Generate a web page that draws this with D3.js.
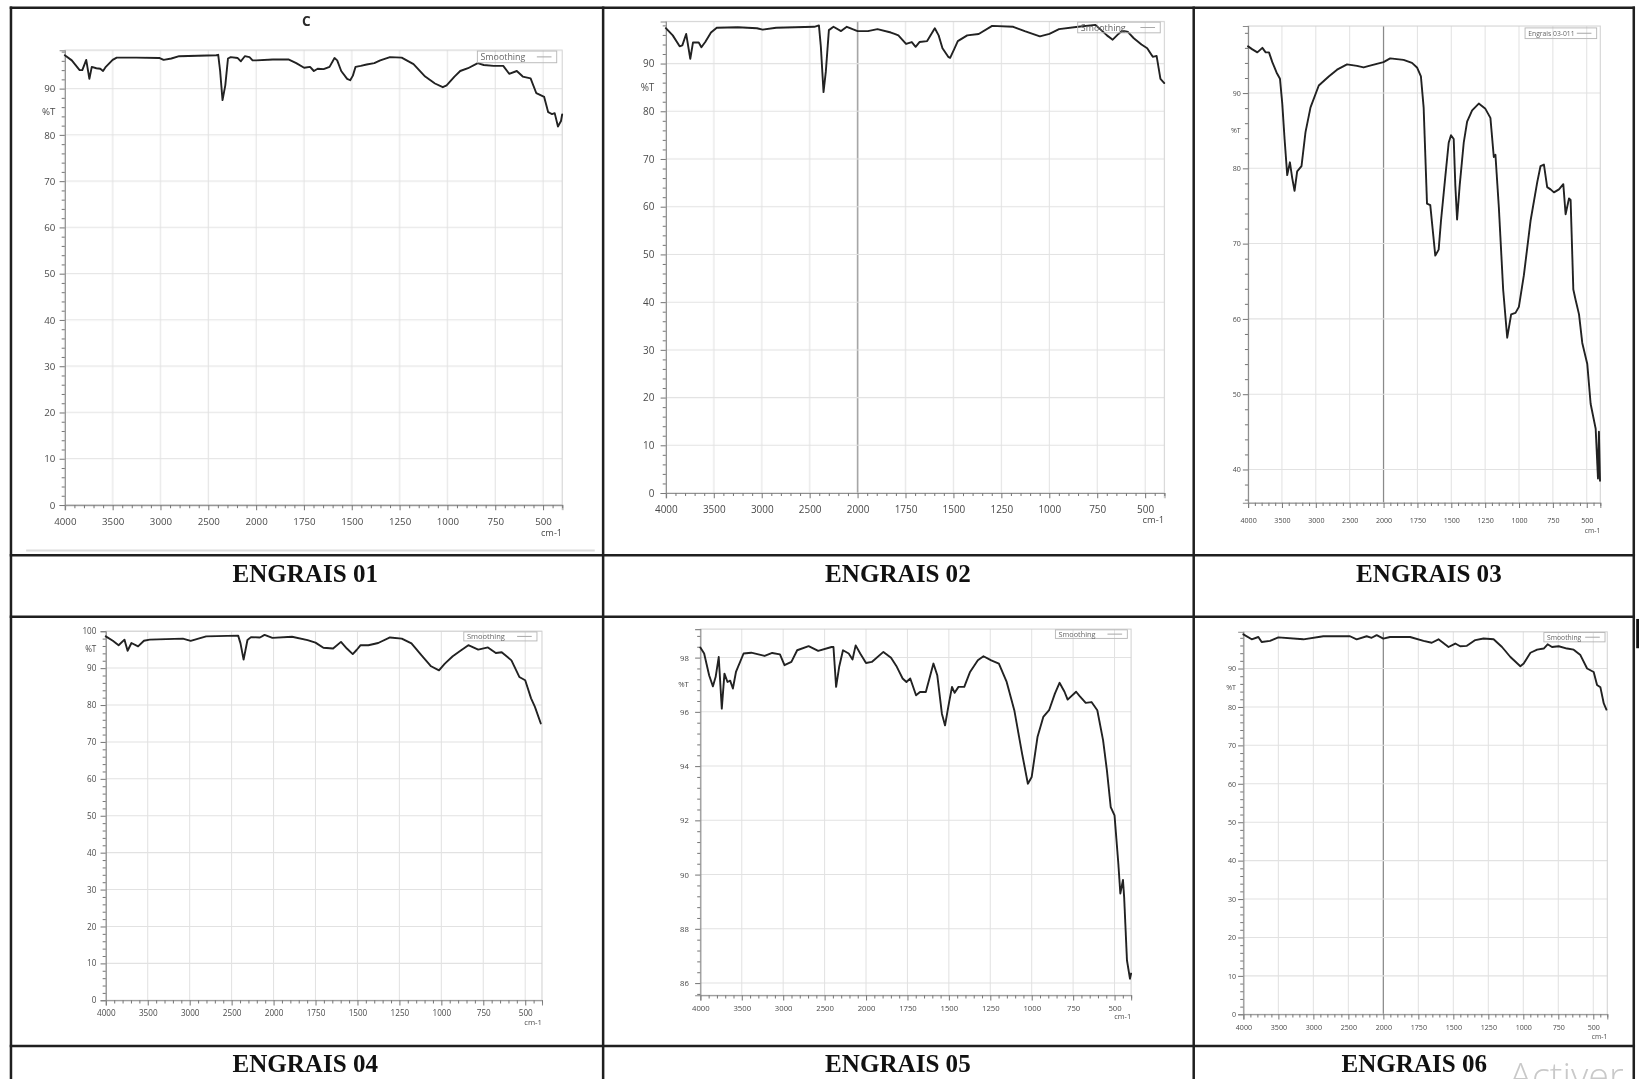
<!DOCTYPE html>
<html>
<head>
<meta charset="utf-8">
<script src="https://cdn.jsdelivr.net/npm/d3@7"></script>
<style>
  html, body { margin: 0; padding: 0; background: #fff; overflow: hidden; }
  svg { display: block; }
</style>
</head>
<body>
<svg id="fig" width="1639" height="1079" viewBox="0 0 1568 1032" preserveAspectRatio="none"></svg>
<script>
// ---- FTIR spectra of six fertiliser samples (wavenumber in cm-1, transmittance in %T) ----
const captions = ["ENGRAIS 01", "ENGRAIS 02", "ENGRAIS 03", "ENGRAIS 04", "ENGRAIS 05", "ENGRAIS 06"];
const legendNames = ["Smoothing", "Smoothing", "Engrais 03-011", "Smoothing", "Smoothing", "Smoothing"];

const xTickLabels = [4000, 3500, 3000, 2500, 2000, 1750, 1500, 1250, 1000, 750, 500];

const yTicks01 = [0, 10, 20, 30, 40, 50, 60, 70, 80, 90];
const yTicks02 = [0, 10, 20, 30, 40, 50, 60, 70, 80, 90];
const yTicks03 = [40, 50, 60, 70, 80, 90];
const yTicks04 = [0, 10, 20, 30, 40, 50, 60, 70, 80, 90, 100];
const yTicks05 = [86, 88, 90, 92, 94, 96, 98];
const yTicks06 = [0, 10, 20, 30, 40, 50, 60, 70, 80, 90];

const wn01 = [4000,3927,3845,3817,3776,3743,3718,3670,3629,3600,3571,3500,3457,3253,3008,2967,2886,2804,2416,2396,2376,2351,2322,2294,2265,2192,2159,2118,2069,2037,2000,1912,1831,1790,1749,1718,1698,1678,1647,1616,1590,1576,1555,1524,1508,1494,1480,1453,1422,1382,1351,1300,1239,1177,1116,1065,1024,1004,963,933,892,841,810,759,708,677,637,606,565,535,494,473,453,439,422,406,400];
const t01  = [97.2,96.1,94,94,96.2,92.1,94.7,94.4,94.3,93.8,94.7,96.2,96.7,96.7,96.6,96.2,96.5,97,97.2,97.3,93.8,87.5,90.7,96.5,96.8,96.6,95.9,97,96.8,96.1,96.1,96.3,96.3,95.5,94.5,94.7,93.8,94.3,94.2,94.7,96.6,96.1,93.8,92.1,91.8,92.8,94.7,94.9,95.2,95.5,96.1,96.8,96.7,95.3,92.6,91.1,90.3,90.7,92.6,93.8,94.4,95.5,95.1,94.9,94.9,93.2,93.8,92.6,92.2,89,88.2,84.9,84.5,84.7,81.8,83,84.4];

const wn02 = [4000,3928,3856,3828,3788,3745,3717,3657,3629,3589,3529,3469,3249,3050,2990,2850,2451,2403,2383,2355,2331,2299,2251,2172,2112,2052,2000,1946,1896,1826,1787,1747,1717,1697,1677,1637,1597,1577,1557,1527,1517,1497,1477,1428,1368,1298,1188,1128,1049,999,949,849,759,699,669,639,619,589,559,519,489,460,440,420,400];
const t02  = [97.4,95.9,93.6,93.8,96.2,91,94.4,94.4,93.4,94.5,96.5,97.5,97.6,97.4,97.1,97.5,97.7,98,93.6,84,88.3,97,97.7,96.8,97.7,97.2,96.8,96.8,97.2,96.5,95.9,94.1,94.5,93.5,94.5,94.7,97.4,95.9,93.2,91.4,91.2,92.9,94.7,95.9,96.2,97.9,97.7,96.8,95.7,96.2,97.2,97.7,98.1,95.9,95,96.2,96.9,96.6,95.3,94,93.2,91.4,91.6,86.8,85.9];

const wn03 = [4000,3936,3863,3789,3740,3691,3642,3578,3529,3495,3461,3422,3382,3348,3314,3275,3211,3152,3078,2956,2809,2686,2539,2392,2294,2172,2000,1951,1852,1790,1753,1724,1704,1679,1655,1635,1618,1593,1576,1544,1519,1502,1482,1470,1457,1438,1408,1383,1346,1297,1248,1211,1186,1174,1149,1117,1087,1058,1026,1001,964,915,865,841,816,792,767,742,705,673,656,631,619,599,582,557,533,496,471,434,417,410,402];
const t03  = [96.2,95.8,95.4,96,95.4,95.4,94.1,92.7,91.9,88.6,83.9,79.1,80.8,78.7,77,79.6,80.3,84.8,88.1,91,92.2,93.1,93.8,93.6,93.4,93.7,94.1,94.6,94.4,94,93.4,92.2,88.1,75.3,75.1,71.5,68.4,69.2,73,78.9,83.4,84.4,83.9,77.7,73.2,77.7,83.4,86.2,87.7,88.6,87.9,86.7,81.5,81.8,74.9,63.9,57.5,60.6,60.8,61.6,65.8,73,78.2,80.3,80.5,77.5,77.2,76.8,77.2,77.9,73.9,76,75.8,63.9,62.5,60.6,56.8,54,48.7,45.4,38.8,45,38.5];

const wn04 = [4000,3916,3847,3777,3740,3694,3615,3545,3476,3081,2988,2896,2803,2422,2394,2357,2311,2269,2162,2107,2014,1890,1797,1750,1703,1645,1598,1563,1528,1505,1481,1435,1376,1306,1236,1178,1119,1061,1014,979,932,886,839,780,722,675,640,582,535,500,465,442,407];
const t04  = [98.6,97.4,96.2,97.7,94.7,96.8,95.9,97.4,97.7,98,97.4,98,98.6,98.8,96.7,92.3,97.6,98.4,98.3,99,98.2,98.5,97.6,96.9,95.5,95.3,97.1,95.3,93.8,94.9,96.2,96.2,96.8,98.3,98,96.7,93.5,90.5,89.4,91.2,93.2,94.7,96.2,95,95.6,94.1,94.3,92.1,87.6,86.7,81.8,79.5,75];

const wn05 = [4000,3954,3894,3848,3815,3778,3741,3709,3672,3640,3607,3570,3478,3386,3224,3132,3039,2984,2901,2831,2693,2577,2416,2393,2361,2324,2278,2209,2163,2125,2070,2000,1965,1895,1849,1814,1779,1756,1733,1698,1674,1639,1593,1570,1542,1523,1500,1481,1465,1442,1407,1372,1325,1291,1244,1198,1151,1105,1058,1023,1000,965,930,895,860,832,802,783,732,709,674,639,604,569,546,523,500,477,465,449,442,425,407,400];
const t05  = [98.37,98.15,97.35,96.94,97.29,98.02,96.12,97.41,97.1,97.15,96.86,97.47,98.15,98.18,98.06,98.17,98.12,97.72,97.84,98.27,98.42,98.25,98.39,98.39,96.92,97.66,98.27,98.15,97.93,98.45,98.15,97.8,97.84,98.21,97.99,97.66,97.23,97.1,97.23,96.61,96.73,96.73,97.78,97.35,95.93,95.5,96.3,96.92,96.7,96.92,96.92,97.47,97.9,98.05,97.9,97.78,97.1,96.06,94.46,93.35,93.6,95.07,95.81,96.06,96.67,97.07,96.74,96.45,96.74,96.57,96.33,96.36,96.06,94.95,93.84,92.49,92.18,90.4,89.3,89.8,89.17,86.84,86.16,86.35];

const wn06 = [4000,3881,3786,3738,3619,3500,3143,2857,2476,2381,2238,2167,2095,2000,1952,1809,1713,1654,1606,1534,1486,1451,1403,1343,1284,1212,1152,1092,1021,997,949,901,854,826,795,747,687,640,592,544,497,473,449,425,406];
const t06  = [98.9,97.6,98.2,96.9,97.2,98.1,97.6,98.4,98.4,97.6,98.4,98,98.7,97.8,98.2,98.2,97.2,96.7,97.6,95.6,96.5,95.8,95.9,97.4,97.8,97.6,95.6,93,90.6,91.3,94.1,94.9,95.2,96.3,95.6,95.8,95.2,94.9,93.5,90,89.1,85.7,85.1,80.9,79.3];

const spectra = [
  { wn: wn01, t: t01, yTicks: yTicks01 },
  { wn: wn02, t: t02, yTicks: yTicks02 },
  { wn: wn03, t: t03, yTicks: yTicks03 },
  { wn: wn04, t: t04, yTicks: yTicks04 },
  { wn: wn05, t: t05, yTicks: yTicks05 },
  { wn: wn06, t: t06, yTicks: yTicks06 }
];

// ---- page geometry (viewBox units) ----
const frames = [
  { left: 62,     mid: 245,    bottom: 483,   top: 48,    yDomain: [0, 98.3],      yMinor: 2,   pctT: 85, fs: 9.3, xLabDy: 16,   yGap: 9,  cmDy: 27,   breakLine: false,
    legend: [456.7, 532.6, 48.8, 60],  legFs: 8.5 },
  { left: 637,    mid: 820.4,  bottom: 471.5, top: 20.6,  yDomain: [0, 98.8],      yMinor: 2,   pctT: 85, fs: 9.5, xLabDy: 15.5, yGap: 11, cmDy: 25.5, breakLine: true,
    legend: [1031, 1110, 21.2, 31.4],  legFs: 8.5 },
  { left: 1194,   mid: 1323.6, bottom: 480.9, top: 24.9,  yDomain: [35.57, 98.9],  yMinor: 2,   pctT: 85, fs: 6.8, xLabDy: 16.6, yGap: 7,  cmDy: 27,   breakLine: true,
    legend: [1459, 1527.5, 26.7, 36.9], legFs: 6.5 },
  { left: 101.2,  mid: 261.7,  bottom: 956.7, top: 603.7, yDomain: [0, 100],       yMinor: 2,   pctT: 95, fs: 7.8, xLabDy: 12,   yGap: 9,  cmDy: 21,   breakLine: false,
    legend: [443.7, 513.7, 604.4, 613], legFs: 7.2 },
  { left: 670,    mid: 828.5,  bottom: 951.9, top: 601.7, yDomain: [85.55, 99.05], yMinor: 0.4, pctT: 97, fs: 7.4, xLabDy: 12,   yGap: 11, cmDy: 20.7, breakLine: false,
    legend: [1009.7, 1078.5, 602.4, 610.6], legFs: 7 },
  { left: 1189.5, mid: 1323.4, bottom: 970.1, top: 604.3, yDomain: [0, 99.55],     yMinor: 2,   pctT: 85, fs: 6.8, xLabDy: 12.7, yGap: 7,  cmDy: 21,   breakLine: true,
    legend: [1477, 1535.5, 605, 613.9], legFs: 6.5 }
];

const captionPos = [[292, 556.5], [859, 556.5], [1367, 556.5], [292, 1025], [859, 1025], [1353, 1025]];

const svg = d3.select("#fig");
svg.append("rect").attr("width", 1568).attr("height", 1032).attr("fill", "#fff");

const defs = svg.append("defs");
defs.append("filter").attr("id", "soft")
  .attr("x", "-5%").attr("y", "-5%").attr("width", "110%").attr("height", "110%")
  .append("feGaussianBlur").attr("stdDeviation", 0.45);

// minor wavenumber ticks: every 100 above 2000 cm-1, every 50 below
const xMinorTicks = d3.range(4000, 2000, -100).concat(d3.range(2000, 399, -50))
  .filter(v => !xTickLabels.includes(v));

const tickFont = "'Open Sans', 'DejaVu Sans', sans-serif";

spectra.forEach((s, i) => {
  const f = frames[i];
  const right = f.mid + 1.6 * (f.mid - f.left);
  // the instrument doubles the wavenumber scale below 2000 cm-1
  const x = d3.scaleLinear().domain([4000, 2000, 400]).range([f.left, f.mid, right]);
  const y = d3.scaleLinear().domain(f.yDomain).range([f.bottom, f.top]);

  const g = svg.append("g").attr("filter", "url(#soft)");

  // grid
  g.append("g").selectAll("line").data(xTickLabels.filter(v => v !== 4000)).join("line")
    .attr("x1", d => x(d)).attr("x2", d => x(d))
    .attr("y1", f.top).attr("y2", f.bottom)
    .attr("stroke", d => (f.breakLine && d === 2000) ? "#8a8a8a" : "#e2e2e2")
    .attr("stroke-width", d => (f.breakLine && d === 2000) ? 1.2 : 1);
  g.append("g").selectAll("line").data(s.yTicks.filter(v => v > f.yDomain[0])).join("line")
    .attr("x1", f.left).attr("x2", right)
    .attr("y1", d => y(d)).attr("y2", d => y(d))
    .attr("stroke", "#e2e2e2").attr("stroke-width", 1);

  // frame
  g.append("rect").attr("x", f.left).attr("y", f.top)
    .attr("width", right - f.left).attr("height", f.bottom - f.top)
    .attr("fill", "none").attr("stroke", "#d2d2d2").attr("stroke-width", 1);

  // x axis: major ticks with labels, minor ticks
  const xAx = g.append("g").attr("transform", `translate(0,${f.bottom})`)
    .call(d3.axisBottom(x).tickValues(xTickLabels).tickSize(5)
      .tickPadding(f.xLabDy - 5 - 0.35 * f.fs).tickFormat(d3.format("d")));
  const xAxMin = g.append("g").attr("transform", `translate(0,${f.bottom})`)
    .call(d3.axisBottom(x).tickValues(xMinorTicks).tickSize(3).tickFormat(""));
  xAxMin.select(".domain").remove();

  // y axis
  const minorVals = [];
  const step = f.yMinor;
  for (let k = Math.ceil(f.yDomain[0] / step); k * step <= f.yDomain[1] + 1e-9; k++) {
    const v = +(k * step).toFixed(3);
    if (!s.yTicks.some(t => Math.abs(t - v) < 1e-6)) minorVals.push(v);
  }
  const yAx = g.append("g").attr("transform", `translate(${f.left},0)`)
    .call(d3.axisLeft(y).tickValues(s.yTicks).tickSize(5).tickPadding(f.yGap - 5).tickFormat(d3.format("d")));
  const yAxMin = g.append("g").attr("transform", `translate(${f.left},0)`)
    .call(d3.axisLeft(y).tickValues(minorVals).tickSize(3).tickFormat(""));
  yAxMin.select(".domain").remove();

  [xAx, xAxMin, yAx, yAxMin].forEach(a => {
    a.attr("font-family", tickFont).attr("font-size", f.fs);
    a.selectAll("line").attr("stroke", "#7a7a7a");
    a.selectAll(".domain").attr("stroke", "#8a8a8a");
    a.selectAll("text").attr("fill", "#4a4a4a");
  });

  // %T and cm-1 labels
  g.append("text").attr("x", f.left - f.yGap).attr("y", y(f.pctT)).attr("dy", "0.35em")
    .attr("text-anchor", "end").attr("font-family", tickFont).attr("font-size", f.fs)
    .attr("fill", "#4a4a4a").text("%T");
  g.append("text").attr("x", right).attr("y", f.bottom + f.cmDy).attr("dy", "0.35em")
    .attr("text-anchor", "end").attr("font-family", tickFont).attr("font-size", f.fs * 0.95)
    .attr("fill", "#4a4a4a").text("cm-1");

  // spectrum
  const pts = s.wn.map((w, k) => [w, s.t[k]]);
  g.append("path").datum(pts)
    .attr("d", d3.line().x(d => x(d[0])).y(d => y(d[1])))
    .attr("fill", "none").attr("stroke", "#202020").attr("stroke-width", 1.8)
    .attr("stroke-linejoin", "round").attr("stroke-linecap", "round");

  // legend box
  const [lx0, lx1, ly0, ly1] = f.legend;
  g.append("rect").attr("x", lx0).attr("y", ly0).attr("width", lx1 - lx0).attr("height", ly1 - ly0)
    .attr("fill", "none").attr("stroke", "#b8b8b8").attr("stroke-width", 0.9);
  g.append("text").attr("x", lx0 + 3).attr("y", (ly0 + ly1) / 2).attr("dy", "0.35em")
    .attr("font-family", tickFont).attr("font-size", f.legFs).attr("fill", "#666")
    .text(legendNames[i]);
  g.append("line").attr("x1", lx1 - 19).attr("x2", lx1 - 5)
    .attr("y1", (ly0 + ly1) / 2).attr("y2", (ly0 + ly1) / 2)
    .attr("stroke", "#aaa").attr("stroke-width", 1);
});

// thin rule under the first pasted spectrum
svg.append("line").attr("x1", 25).attr("x2", 569).attr("y1", 526.5).attr("y2", 526.5)
  .attr("stroke", "#dcdcdc").attr("stroke-width", 2);

// small "C" marker above the first spectrum
svg.append("text").attr("x", 293).attr("y", 25).attr("text-anchor", "middle")
  .attr("font-family", "'Open Sans', 'DejaVu Sans', sans-serif").attr("font-weight", 700)
  .attr("font-size", 13).attr("fill", "#2a2a2a").text("C");

// captions
svg.append("g").selectAll("text").data(captions).join("text")
  .attr("x", (d, k) => captionPos[k][0]).attr("y", (d, k) => captionPos[k][1])
  .attr("text-anchor", "middle")
  .attr("font-family", "'Liberation Serif', 'Times New Roman', serif")
  .attr("font-weight", 700).attr("font-size", 24).attr("fill", "#111")
  .text(d => d);

// table rules
const tableX = [10.5, 577, 1142, 1563];
const tableY = [7.5, 531, 590, 1000.5];
const rules = svg.append("g").attr("stroke", "#1f1f1f").attr("stroke-width", 2.4);
rules.selectAll(".v").data(tableX).join("line").attr("class", "v")
  .attr("x1", d => d).attr("x2", d => d).attr("y1", 6.3).attr("y2", 1032);
rules.selectAll(".h").data(tableY).join("line").attr("class", "h")
  .attr("x1", 9.3).attr("x2", 1564.2).attr("y1", d => d).attr("y2", d => d);

// screen-edge marks
svg.append("rect").attr("x", 1565.3).attr("y", 592).attr("width", 3).attr("height", 28).attr("fill", "#111");
svg.append("text").attr("x", 1444).attr("y", 1042)
  .attr("font-family", "'Open Sans', 'DejaVu Sans', sans-serif").attr("font-weight", 300)
  .attr("font-size", 36).attr("fill", "#c9c9c9").text("Activer");
</script>
</body>
</html>
